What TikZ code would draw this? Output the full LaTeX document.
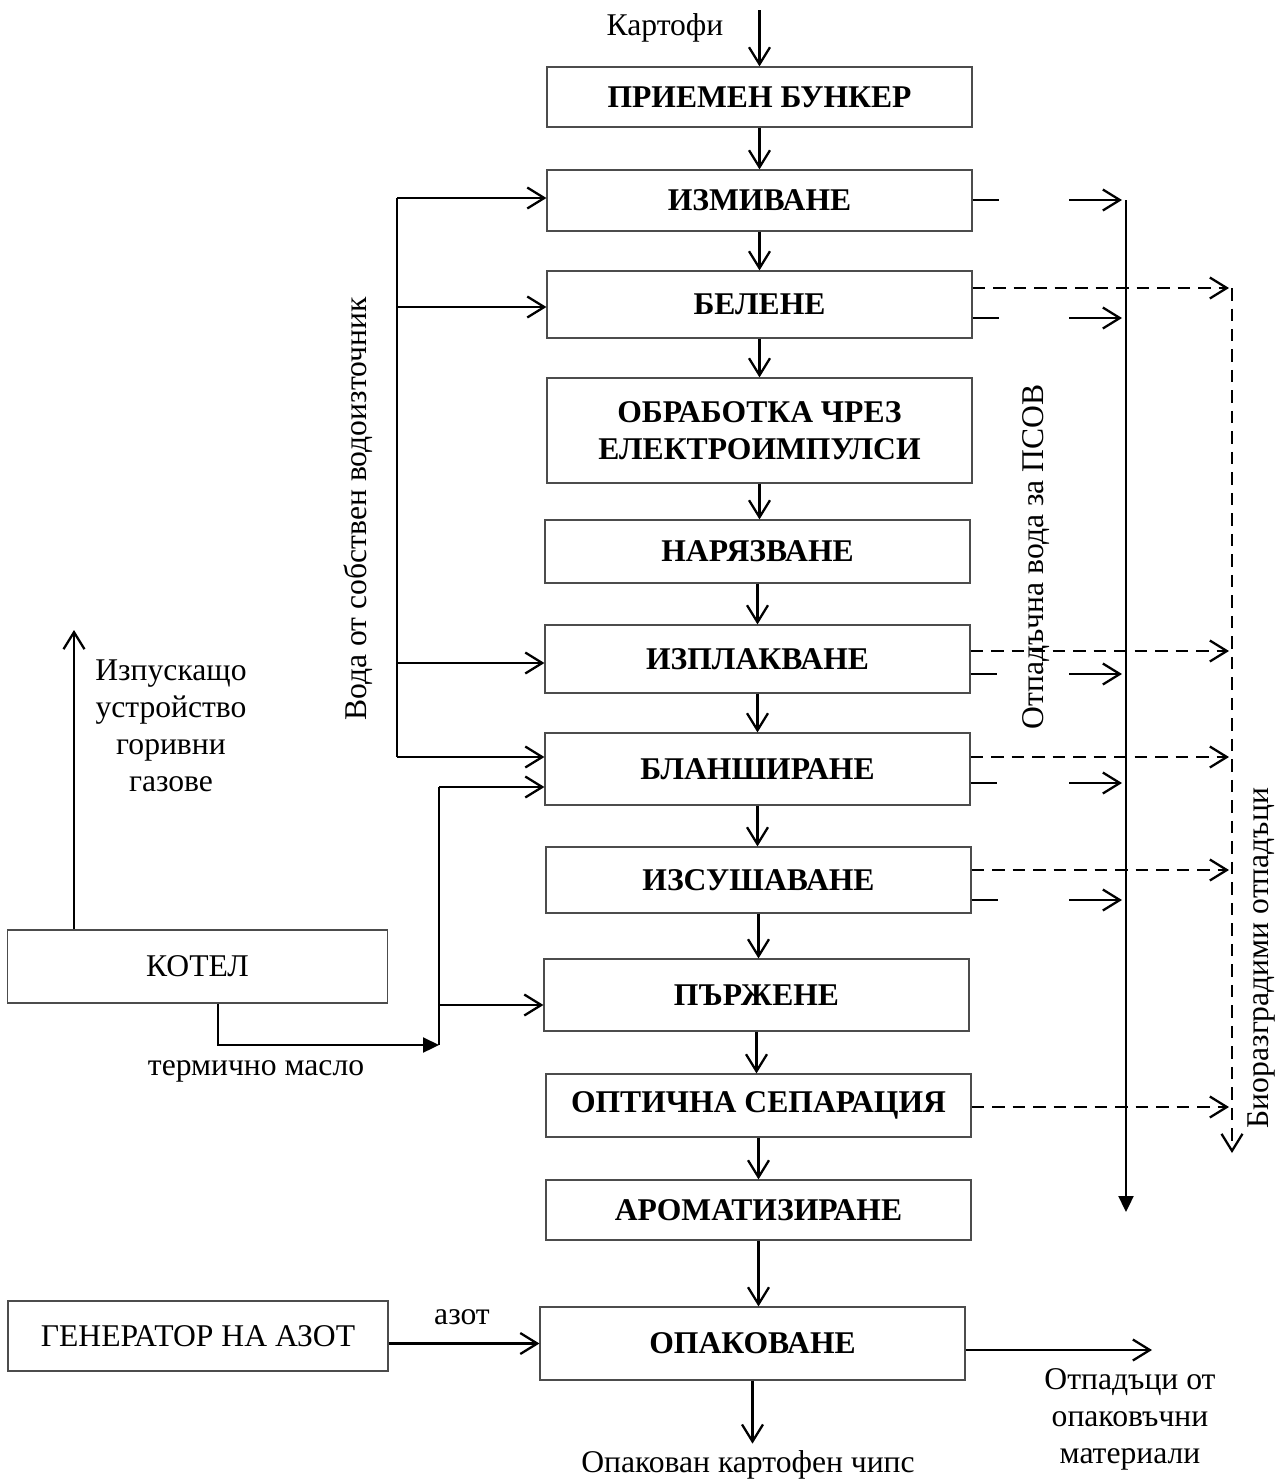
\documentclass[tikz,border=0pt]{standalone}
\usepackage{fontspec}
\setmainfont{Liberation Serif}
\usetikzlibrary{arrows.meta, positioning}
\tikzset{
  stagebox/.style={draw=black!70, line width=0.7pt, minimum width=8.5cm, inner sep=0pt,
    align=center, font=\fontsize{18}{21}\selectfont\bfseries},
  sidebox/.style={draw=black!70, line width=0.7pt, minimum width=7.6cm, inner sep=0pt,
    font=\fontsize{18}{21}\selectfont},
  txt/.style={inner sep=0pt, align=center, font=\fontsize{18}{21}\selectfont},
  link/.style={line width=1.3pt},
  flow/.style={link, -{Straight Barb[length=0.34cm,width=0.42cm]}},
  waste/.style={flow, dash pattern=on 0.25cm off 0.16cm},
  solidtip/.style={link, -{Triangle[length=0.32cm,width=0.3cm]}}
}
\begin{document}
\begin{tikzpicture}[x=0.02cm, y=-0.02cm]
  \useasboundingbox (0,0) rectangle (1284,1482);
  % main line
  \foreach \nm/\xc/\yc/\h/\txt in {
    bunker/759.5/97/60/ПРИЕМЕН БУНКЕР,
    wash/759.5/200.5/61/ИЗМИВАНЕ,
    peel/759.5/304.5/67/БЕЛЕНЕ,
    pulse/759.5/430.5/105/{ОБРАБОТКА ЧРЕЗ\\ЕЛЕКТРОИМПУЛСИ},
    slice/757.5/551.5/63/НАРЯЗВАНЕ,
    rinse/757.5/659/68/ИЗПЛАКВАНЕ,
    blanch/757.5/769/72/БЛАНШИРАНЕ,
    dry/758.5/880/66/ИЗСУШАВАНЕ,
    fry/756.5/995/72/ПЪРЖЕНЕ,
    sort/758.5/1105.5/63/ОПТИЧНА СЕПАРАЦИЯ,
    flavour/758.5/1210/60/АРОМАТИЗИРАНЕ,
    pack/752.5/1343.5/73/ОПАКОВАНЕ} {
    \node[stagebox, minimum height=\h*0.02cm] (\nm) at (\xc,\yc) {\txt};
  }
  \foreach \a/\b in {bunker/wash, wash/peel, peel/pulse, pulse/slice, slice/rinse,
    rinse/blanch, blanch/dry, dry/fry, fry/sort, sort/flavour, flavour/pack} {
    \draw[flow] (\a.south) -- (\a.south |- \b.north);
  }
  \coordinate (potin) at (759.5,10);
  \node[txt] (potlbl) at (665,28) {Картофи};
  \draw[flow] (potin) -- (bunker.north);

  % water supply
  \coordinate (wtop) at (397,198);
  \coordinate (wbot) at (397,757);
  \draw[link] (wtop) -- (wbot);
  \foreach \b/\yy in {wash/198, peel/307, rinse/663, blanch/757} {
    \coordinate (src\b) at (397,\yy);
    \draw[flow] (src\b) -- (src\b -| \b.west);
  }
  \node[txt, rotate=90] (watertxt) at (358,509) {Вода от собствен водоизточник};

  % boiler
  \node[sidebox, minimum height=73*0.02cm] (boiler) at (197.5,966.5) {КОТЕЛ};
  \coordinate (exh) at (74,630);
  \draw[flow] (exh |- boiler.north) -- (exh);
  \node[txt] (exhtxt) at (171,726) {Изпускащо\\устройство\\горивни\\газове};
  \coordinate (oilA) at (218,1045);
  \coordinate (oilB) at (439,1045);
  \coordinate (oilTop) at (439,787);
  \coordinate (oilFry) at (439,1005);
  \draw[solidtip] (oilA |- boiler.south) -- (oilA) -- (oilB);
  \draw[link] (oilB) -- (oilTop);
  \draw[flow] (oilTop) -- (oilTop -| blanch.west);
  \draw[flow] (oilFry) -- (oilFry -| fry.west);
  \node[txt] (oiltxt) at (256,1071) {термично масло};

  % waste water
  \coordinate (pstop) at (1126,200);
  \coordinate (psbot) at (1126,1212);
  \draw[solidtip] (pstop) -- (psbot);
  \foreach \b/\yy in {wash/200, peel/318, rinse/674, blanch/783, dry/900} {
    \coordinate (ww\b) at (1122,\yy);
    \draw[link] (ww\b -| \b.east) -- ++(26,0);
    \draw[flow] (ww\b) ++(-53,0) -- (ww\b);
  }
  \node[txt, rotate=90] (pstxt) at (1036,557) {Отпадъчна вода за ПСОВ};

  % biowaste
  \coordinate (biotop) at (1232,288);
  \coordinate (biobot) at (1232,1153);
  \draw[waste] (biotop) -- (biobot);
  \foreach \b/\yy in {peel/288, rinse/651, blanch/757, dry/870, sort/1107} {
    \coordinate (bio\b) at (1229,\yy);
    \draw[waste] (bio\b -| \b.east) -- (bio\b);
  }
  \node[txt, rotate=90] (biotxt) at (1262,958) {Биоразградими отпадъци};

  % packing
  \node[sidebox, minimum height=70*0.02cm] (nitro) at (198,1336) {ГЕНЕРАТОР НА АЗОТ};
  \draw[flow] (nitro.east |- pack.west) -- (pack.west);
  \node[txt] (nitrotxt) at (462,1317) {азот};
  \coordinate (scrap) at (1152,1350);
  \draw[flow] (scrap -| pack.east) -- (scrap);
  \node[txt] (scraptxt) at (1130,1419) {Отпадъци от\\опаковъчни\\материали};
  \draw[flow] (pack.south) -- ++(0,63);
  \node[txt] (chips) at (748,1465) {Опакован картофен чипс};
\end{tikzpicture}
\end{document}
